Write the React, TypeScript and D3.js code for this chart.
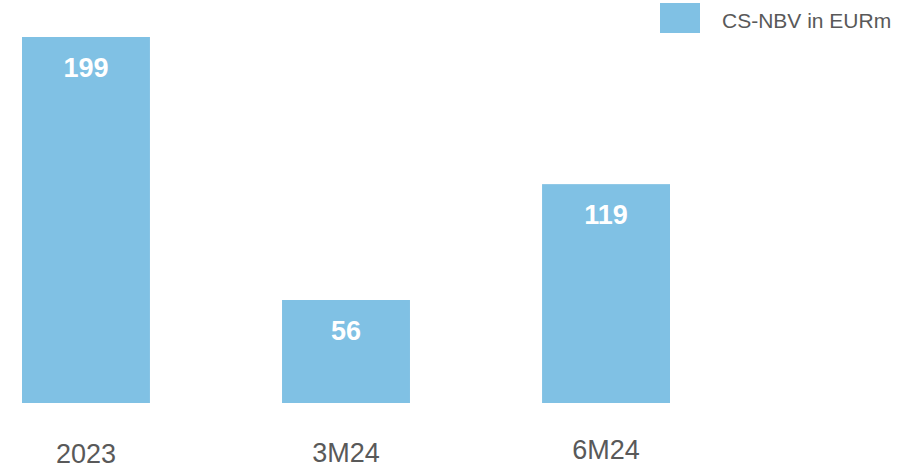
import React, { useEffect, useRef } from 'react';
import * as d3 from 'd3';

const categories = ['2023', '3M24', '6M24'];
const values = [199, 56, 119];
const seriesName = 'CS-NBV in EURm';

const W = 920;
const H = 470;
const barColor = '#80c1e4';
const textGrey = '#595959';
const font = 'Arial, "Liberation Sans", sans-serif';

const App: React.FC = () => {
  const svgRef = useRef<SVGSVGElement>(null);

  useEffect(() => {
    if (!svgRef.current) return;
    const svg = d3.select(svgRef.current);
    svg.selectAll('*').remove();

    const x = d3.scaleBand<string>()
      .domain(categories)
      .range([22, 670])
      .paddingInner(0.508)
      .paddingOuter(0);

    const y = d3.scaleLinear()
      .domain([0, d3.max(values) as number])
      .range([403, 37]);

    const data = categories.map((c, i) => ({ c, v: values[i] }));

    // bars
    svg.append('g')
      .selectAll('rect')
      .data(data)
      .enter()
      .append('rect')
      .attr('x', d => x(d.c) || 0)
      .attr('y', d => y(d.v))
      .attr('width', x.bandwidth())
      .attr('height', d => y(0) - y(d.v))
      .attr('fill', barColor);

    // value labels inside bars
    svg.append('g')
      .selectAll('text')
      .data(data)
      .enter()
      .append('text')
      .attr('x', d => (x(d.c) || 0) + x.bandwidth() / 2)
      .attr('y', d => y(d.v) + 40)
      .attr('text-anchor', 'middle')
      .style('font-family', font)
      .style('font-size', '27px')
      .style('font-weight', 700)
      .style('fill', '#fff')
      .text(d => String(d.v));

    // category labels (slightly uneven baselines in the original)
    const labelShift = [0, -1, -4];
    svg.append('g')
      .selectAll('text')
      .data(data)
      .enter()
      .append('text')
      .attr('x', d => (x(d.c) || 0) + x.bandwidth() / 2)
      .attr('y', (_, i) => 463 + labelShift[i])
      .attr('text-anchor', 'middle')
      .style('font-family', font)
      .style('font-size', '27px')
      .style('fill', textGrey)
      .text(d => d.c);

    // legend
    const legend = svg.append('g').attr('transform', 'translate(660,3)');
    legend.append('rect')
      .attr('width', 40)
      .attr('height', 30)
      .attr('fill', barColor);
    legend.append('text')
      .attr('x', 62)
      .attr('y', 25)
      .style('font-family', font)
      .style('font-size', '21px')
      .style('fill', textGrey)
      .text(seriesName);
  }, []);

  return (
    <svg
      ref={svgRef}
      width={W}
      height={H}
      style={{ position: 'absolute', left: 0, top: 0, background: '#fff' }}
    />
  );
};

export default App;
